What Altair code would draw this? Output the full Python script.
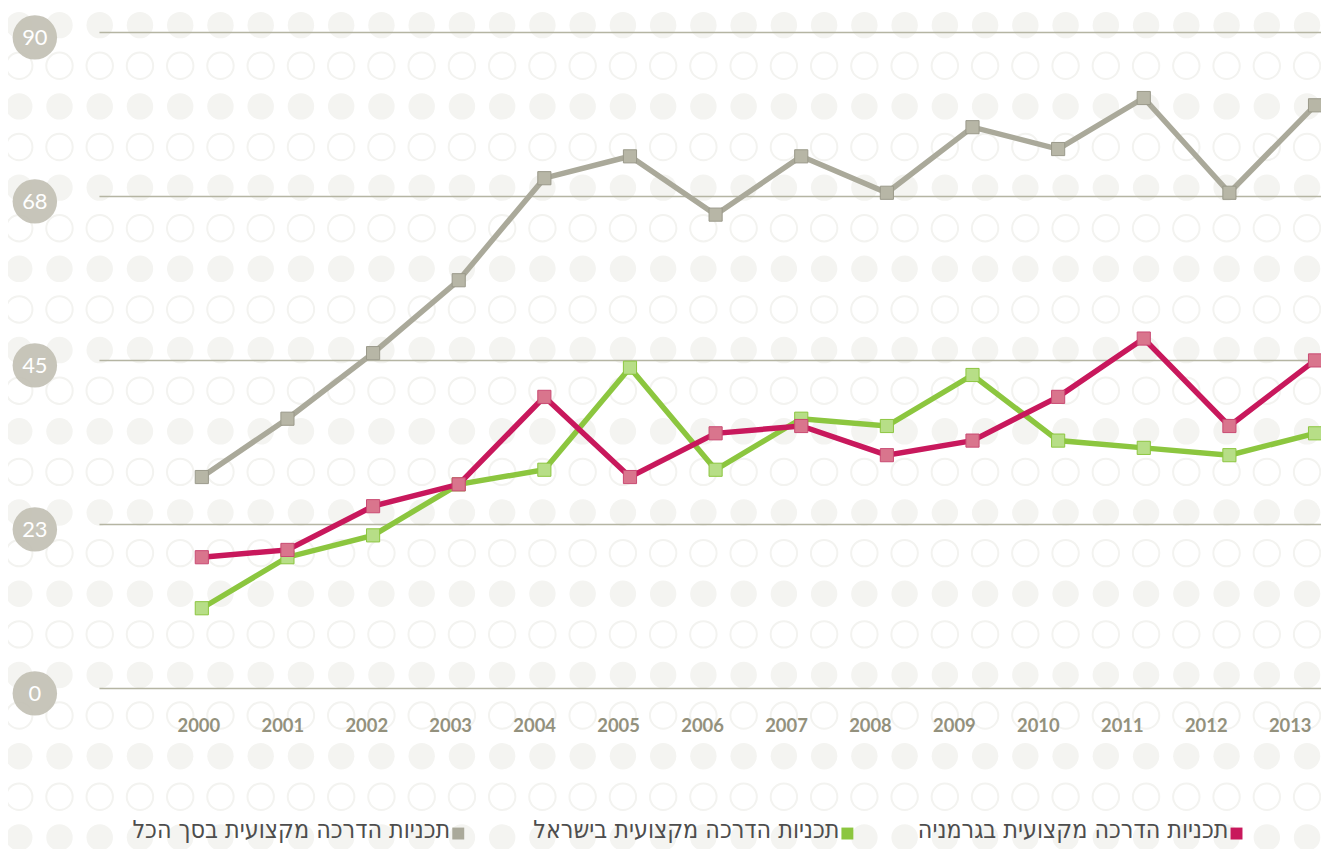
import altair as alt
import pandas as pd

# ---- data ----
years = list(range(2000, 2014))
germany = [18, 19, 25, 28, 40, 29, 35, 36, 32, 34, 40, 48, 36, 45]
israel = [11, 18, 21, 28, 30, 44, 30, 37, 36, 43, 34, 33, 32, 35]
total = [29, 37, 46, 56, 70, 73, 65, 73, 68, 77, 74, 81, 68, 80]

s_total = "תכניות הדרכה מקצועית בסך הכל"
s_israel = "תכניות הדרכה מקצועית בישראל"
s_germany = "תכניות הדרכה מקצועית בגרמניה"
series_names = [s_total, s_israel, s_germany]

tick_values = [0, 22.5, 45, 67.5, 90]
tick_labels = ["0", "23", "45", "68", "90"]

# ---- styles ----
line_colors = ["#aaa99a", "#8cc63f", "#c8185c"]
marker_fill = ["#b7b6a6", "#b7de87", "#d9758d"]
marker_stroke = ["#9a998a", "#8cc63f", "#c94a72"]

W, H = 1229, 660

frames = {s_total: total, s_israel: israel, s_germany: germany}

xs = alt.Scale(domain=[2000, 2013], range=[103, 1223])
ys = alt.Scale(domain=[0, 90])

layers = []
grid_df = pd.DataFrame({"v": tick_values, "lab": tick_labels})
grid = alt.Chart(grid_df).mark_rule(color="#b5b5a3", strokeWidth=1.5).encode(
    y=alt.Y("v:Q", scale=ys, axis=None), x=alt.value(0), x2=alt.value(W)
)
layers.append(grid)

for i, name in enumerate(series_names):
    df = pd.DataFrame({"year": years, "value": frames[name], "series": name})
    base = alt.Chart(df).encode(
        x=alt.X("year:Q", scale=xs, axis=None),
        y=alt.Y("value:Q", scale=ys, axis=None),
    )
    layers.append(base.mark_line(color=line_colors[i], strokeWidth=5.5, strokeJoin="miter"))
    layers.append(base.mark_point(shape="square", size=175, filled=True,
                                  fill=marker_fill[i], stroke=marker_stroke[i],
                                  strokeWidth=1, opacity=1))

badge = alt.Chart(grid_df).mark_circle(size=2000, color="#c2c0b4", opacity=0.92, yOffset=5).encode(
    y=alt.Y("v:Q", scale=ys, axis=None), x=alt.value(-65)
)
badge_txt = alt.Chart(grid_df).mark_text(color="white", fontSize=22, font="Lato",
                                         baseline="middle", yOffset=6).encode(
    y=alt.Y("v:Q", scale=ys, axis=None), x=alt.value(-65), text="lab:N"
)
layers += [badge, badge_txt]

main = alt.layer(*layers)

# ---- decorative dotted background ----
bg_cols = list(range(33))
bg_rows = list(range(21))
bg_df = pd.DataFrame([{"c": c, "r": r, "kind": "fill" if r % 2 == 0 else "ring"}
                      for r in bg_rows for c in bg_cols])
bx = alt.Scale(domain=[0, 32], range=[-80.7, 1214.98])
by = alt.Scale(domain=[0, 20], range=[-7.3, 809.9])
bg_base = alt.Chart(bg_df).encode(
    x=alt.X("c:Q", scale=bx, axis=None), y=alt.Y("r:Q", scale=by, axis=None)
)
bg_fill = bg_base.transform_filter("datum.kind == 'fill'").mark_circle(
    size=707, color="#f4f4f1", opacity=1)
bg_ring = bg_base.transform_filter("datum.kind == 'ring'").mark_point(
    shape="circle", size=707, filled=False, stroke="#f3f3f0", strokeWidth=2, opacity=1)
bg = alt.layer(bg_fill, bg_ring)

# ---- year labels ----
yl_df = pd.DataFrame({"year": years, "lab": [str(y) for y in years]})
year_labels = alt.Chart(yl_df).mark_text(color="#93917d", fontSize=18.5, font="Lato",
                                          fontWeight="bold",
                                          baseline="middle", align="center").encode(
    x=alt.X("year:Q", scale=alt.Scale(domain=[2000, 2013], range=[100, 1198]), axis=None),
    y=alt.value(698), text="lab:N"
)

# ---- legend ----
lg_df = pd.DataFrame({"series": series_names, "idx": [0, 1, 2], "color": line_colors})
lxs = alt.Scale(domain=[0, 2], range=[353, 1136])
legend_txt = alt.Chart(lg_df).mark_text(
    align="right", baseline="middle", fontSize=25, color="#4d4d4d",
    font="Liberation Sans Narrow, DejaVu Sans Condensed, Liberation Sans, sans-serif"
).encode(x=alt.X("idx:Q", scale=lxs, axis=None), y=alt.value(802), text="series:N")
legend_sq = alt.Chart(lg_df).mark_point(shape="square", size=144, filled=True, opacity=1,
                                        xOffset=8).encode(
    x=alt.X("idx:Q", scale=lxs, axis=None), y=alt.value(806),
    fill=alt.Fill("color:N", scale=None), stroke=alt.value(None)
)
legend = alt.layer(legend_txt, legend_sq)

chart = alt.layer(bg, main, year_labels, legend).resolve_scale(
    x="independent", y="independent"
).properties(
    width=W, height=H,
    autosize=alt.AutoSizeParams(type="none"),
    padding={"left": 92, "top": 22, "right": 0, "bottom": 159},
    background="white",
).configure_view(stroke=None)

chart.save("out.html", embed_options={"renderer": "svg", "actions": False})
